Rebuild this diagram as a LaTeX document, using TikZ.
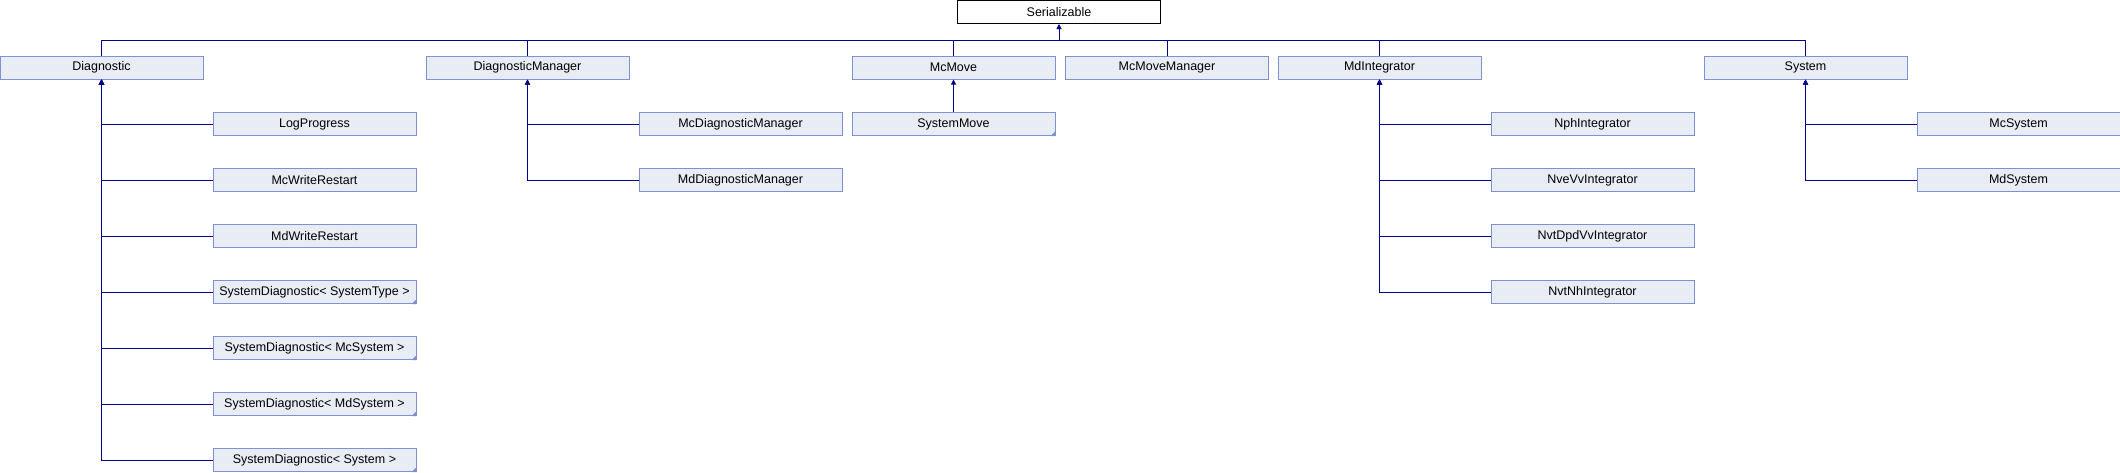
\documentclass[tikz,border=0pt]{standalone}
\usepackage{fontspec}
\setmainfont{Liberation Sans}
\usetikzlibrary{arrows.meta}

\definecolor{boxfill}{RGB}{232,236,244}
\definecolor{boxline}{RGB}{124,148,201}
\definecolor{linkcol}{RGB}{0,0,140}

\begin{document}
\begin{tikzpicture}[x=1pt,y=-1pt,
    cls/.style={rectangle,draw=boxline,fill=boxfill,line width=1pt,
      minimum width=203pt,minimum height=23pt,inner sep=0pt,
      font=\fontsize{12.5}{14}\selectfont},
    top/.style={cls,draw=black,fill=white},
    inh/.style={draw=linkcol,line width=1pt,-{Triangle[width=5pt,length=5pt]}},
    down/.style={to path={-| (\tikztotarget)}},
    up/.style={to path={|- (\tikztotarget)}}]

      \useasboundingbox (0,0) rectangle (2120,472);

      \begin{scope}[every node/.style={cls}]
        \node[top] (ser) at (1059,12) {Serializable};
        \node (diag) at (101.5,67.5) {Diagnostic};
        \node (dman) at (527.5,67.5) {DiagnosticManager};
        \node (mcmove) at (953.5,67.5) {McMove};
        \node (mman) at (1167,67.5) {McMoveManager};
        \node (mdint) at (1379.5,67.5) {MdIntegrator};
        \node (sys) at (1805.5,67.5) {System};
        \node (logp) at (314.5,124) {LogProgress};
        \node (mcwr) at (314.5,180) {McWriteRestart};
        \node (mdwr) at (314.5,236) {MdWriteRestart};
        \node (sdst) at (314.5,292) {SystemDiagnostic< SystemType >};
        \node (sdmc) at (314.5,348) {SystemDiagnostic< McSystem >};
        \node (sdmd) at (314.5,404) {SystemDiagnostic< MdSystem >};
        \node (sds) at (314.5,460) {SystemDiagnostic< System >};
        \node (mcdm) at (740.5,124) {McDiagnosticManager};
        \node (mddm) at (740.5,180) {MdDiagnosticManager};
        \node (smove) at (953.5,124) {SystemMove};
        \node (nph) at (1592.5,124) {NphIntegrator};
        \node (nve) at (1592.5,180) {NveVvIntegrator};
        \node (nvtd) at (1592.5,236) {NvtDpdVvIntegrator};
        \node (nvtn) at (1592.5,292) {NvtNhIntegrator};
        \node (mcsys) at (2018.5,124) {McSystem};
        \node (mdsys) at (2018.5,180) {MdSystem};
      \end{scope}

      % little corner marks
      \foreach \n in {smove,sdst,sdmc,sdmd,sds}
        \fill[boxline] (\n.south east) -- ++(-5,0) -- ++(5,-5) -- cycle;

      \coordinate (bus) at (1059,40);

      \begin{scope}[every edge/.style={draw=linkcol,line width=1pt,up}]
        \path (diag.north) edge (bus);
        \path (dman.north) edge (bus);
        \path (mcmove.north) edge (bus);
        \path (mman.north) edge (bus);
        \path (mdint.north) edge (bus);
        \path (sys.north) edge (bus);
      \end{scope}

      \begin{scope}[every edge/.style={inh,down}]
        \path (bus) edge (ser.south);
        \path (smove.north) edge (mcmove.south);
        \path (sds.west) edge (diag.south);
        \path (sdmd.west) edge (diag.south);
        \path (sdmc.west) edge (diag.south);
        \path (sdst.west) edge (diag.south);
        \path (mdwr.west) edge (diag.south);
        \path (mcwr.west) edge (diag.south);
        \path (logp.west) edge (diag.south);
        \path (mddm.west) edge (dman.south);
        \path (mcdm.west) edge (dman.south);
        \path (nvtn.west) edge (mdint.south);
        \path (nvtd.west) edge (mdint.south);
        \path (nve.west) edge (mdint.south);
        \path (nph.west) edge (mdint.south);
        \path (mdsys.west) edge (sys.south);
        \path (mcsys.west) edge (sys.south);
      \end{scope}

    \end{tikzpicture}
\end{document}
